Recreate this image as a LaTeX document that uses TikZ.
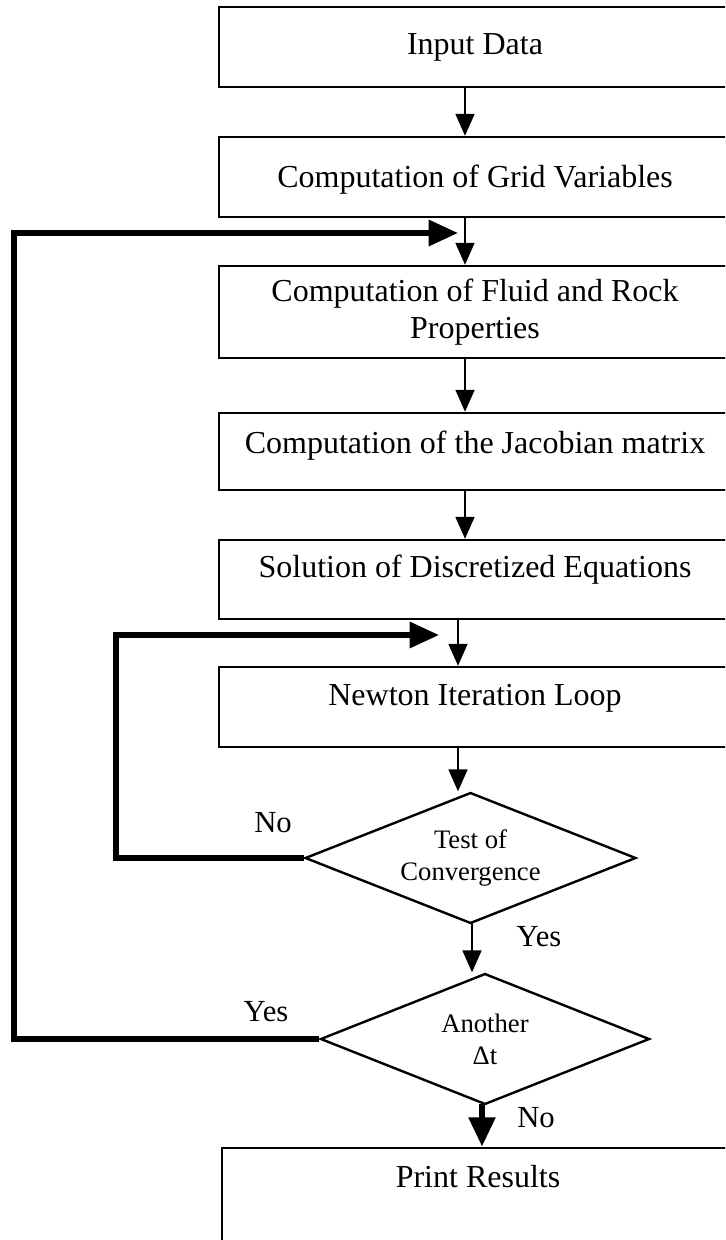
\documentclass[tikz,border=0pt]{standalone}
\usepackage{fontspec}
\setmainfont{Liberation Serif}
\usepackage{tikz}
\usetikzlibrary{calc,positioning,shapes.geometric,arrows.meta}

\begin{document}
\begin{tikzpicture}[x=0.375pt,y=-0.375pt,
		box/.style={draw,line width=0.9pt,minimum width=192pt,align=center,font=\fontsize{12}{13.9}\selectfont},
		tdepth/.style={text height=8.2pt,text depth=#1},
		decide/.style={draw,diamond,line width=0.9pt,aspect=2.5,inner sep=0pt,align=center,font=\fontsize{10}{12}\selectfont},
		lbl/.style={font=\fontsize{11.5}{14}\selectfont},
		arr/.style={line width=0.75pt,-{Triangle[length=8.25pt,width=7.1pt]}},
		bigarr/.style={line width=2pt,-{Triangle[length=11pt,width=9.5pt]}}]
		\useasboundingbox (0,0) rectangle (725,1240);
		\clip (0,0) rectangle (725,1240);
		\begin{scope}
			% main column
			\node(input) [box,minimum height=30pt,tdepth=2.2pt] at (475,47) {Input Data};
			\node(grid) [box,minimum height=30pt,tdepth=0.3pt] at (475,177) {Computation of Grid Variables};
			\node(fluid) [box,minimum height=34.5pt] at (475,312) {Computation of Fluid and Rock\\Properties};
			\node(jac) [box,minimum height=28.9pt,tdepth=6.4pt] at (475,451.5) {Computation of the Jacobian matrix};
			\node(sol) [box,minimum height=29.6pt,tdepth=9.4pt] at (475,579.5) {Solution of Discretized Equations};
			\node(newton) [box,minimum height=30pt,tdepth=9pt] at (475,707) {Newton Iteration Loop};
			\node(test) [decide,minimum width=124.1pt,minimum height=49.1pt] at (470.5,858) {Test of\\Convergence};
			\node(another) [decide,minimum width=123.4pt,minimum height=49.1pt] at (485,1039) {Another\\Δt};
			\node(print) [box,minimum height=42.75pt,tdepth=21pt] at (478,1205) {Print Results};

			% labels
			\node(no1) [lbl] at (273,823) {No};
			\node(yes1) [lbl] at (539,937) {Yes};
			\node(yes2) [lbl] at (266,1012) {Yes};
			\node(no2) [lbl] at (536,1118) {No};

			% axes of the connectors
			\coordinate(ax) at (465,0);
			\coordinate(bx) at (458,0);
			\coordinate(cx) at (472,0);
			\coordinate(dx) at (482,0);
			\coordinate(outerx) at (14,0);
			\coordinate(outertip) at (458,233);
			\coordinate(innerx) at (116,0);
			\coordinate(innertip) at (439,635);

			\draw[arr] (input.south -| ax) -- (grid.north -| ax);
			\draw[arr] (grid.south -| ax) -- (fluid.north -| ax);
			\draw[arr] (fluid.south -| ax) -- (jac.north -| ax);
			\draw[arr] (jac.south -| ax) -- (sol.north -| ax);
			\draw[arr] (sol.south -| bx) -- (newton.north -| bx);
			\draw[arr] (newton.south -| bx) -- (test.north -| bx);
			\draw[arr] (test.south -| cx) ++(0,-2) -- (another.north -| cx);
			\draw[bigarr,line width=2.6pt] (another.south -| dx) ++(0,-2) -- (print.north -| dx);

			% loops back
			\draw[bigarr] (test.west) -- (test.west -| innerx) |- (innertip);
			\draw[bigarr] (another.west) -- (another.west -| outerx) |- (outertip);
		\end{scope}
	\end{tikzpicture}
\end{document}
